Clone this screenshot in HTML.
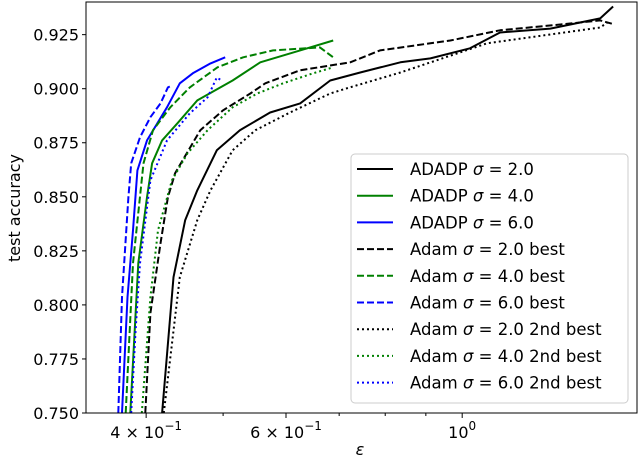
<!DOCTYPE html>
<html><head><meta charset="utf-8">
<style>
html,body{margin:0;padding:0;background:#fff;}
svg{display:block;font-family:"DejaVu Sans","Liberation Sans",sans-serif;}
</style></head>
<body>
<svg id="chart" width="640" height="462" viewBox="0 0 640 462">
  <g id="plot"></g>
  <rect x="86" y="2" width="551" height="411" fill="none" stroke="#000" stroke-width="1"/>
  <g id="axes"></g>
  <text x="20" y="208" transform="rotate(-90 20 208)" text-anchor="middle" font-size="16">test accuracy</text>
  <text x="360" y="455" text-anchor="middle" font-size="16" font-style="italic">ε</text>
  <g id="legend"></g>
</svg>
<script>
// ---- data ----
const eps_adadp2 = [0.419,0.433,0.448,0.464,0.491,0.525,0.573,0.625,0.682,0.744,0.836,0.912,1.023,1.116,1.291,1.492,1.549];
const acc_adadp2 = [0.75,0.8128,0.8392,0.853,0.8715,0.8808,0.889,0.8932,0.9038,0.9075,0.9122,0.914,0.9187,0.926,0.9278,0.9325,0.938];
const eps_adam2b = [0.399,0.405,0.417,0.426,0.435,0.468,0.500,0.541,0.565,0.625,0.723,0.788,0.966,1.116,1.329,1.492,1.545];
const acc_adam2b = [0.75,0.7962,0.8285,0.8498,0.8609,0.8808,0.89,0.8978,0.9025,0.9085,0.9122,0.9177,0.9223,0.927,0.9297,0.9316,0.930];
const eps_adam2s = [0.421,0.441,0.464,0.482,0.514,0.549,0.607,0.682,0.722,0.836,1.075,1.492,1.523];
const acc_adam2s = [0.75,0.8128,0.8392,0.853,0.8715,0.8808,0.889,0.8978,0.9006,0.9075,0.921,0.9283,0.9306];
const eps_adadp4 = [0.382,0.391,0.401,0.407,0.419,0.438,0.464,0.514,0.557,0.625,0.688];
const acc_adadp4 = [0.75,0.8193,0.8498,0.8655,0.8761,0.884,0.8946,0.9038,0.9122,0.9177,0.9223];
const eps_adam4b = [0.377,0.385,0.397,0.408,0.429,0.454,0.492,0.530,0.578,0.662,0.688];
const acc_adam4b = [0.75,0.8193,0.8655,0.8808,0.8914,0.9006,0.9099,0.9145,0.9177,0.9191,0.9145];
const eps_adam4s = [0.395,0.405,0.414,0.431,0.451,0.478,0.514,0.552,0.595,0.649,0.688];
const acc_adam4s = [0.75,0.8036,0.8345,0.8576,0.8701,0.8808,0.8914,0.8978,0.9025,0.9071,0.9099];
const eps_adadp6 = [0.373,0.379,0.385,0.390,0.401,0.425,0.441,0.458,0.482,0.503];
const acc_adadp6 = [0.75,0.8036,0.8345,0.8622,0.8761,0.8914,0.9025,0.9071,0.9117,0.9145];
const eps_adam6b = [0.369,0.373,0.380,0.383,0.393,0.405,0.417,0.426,0.431];
const acc_adam6b = [0.75,0.8036,0.8498,0.8655,0.8775,0.8868,0.8932,0.9006,0.9015];
const eps_adam6s = [0.383,0.388,0.393,0.405,0.425,0.454,0.478,0.491,0.498];
const acc_adam6s = [0.75,0.7883,0.8193,0.8576,0.8761,0.8886,0.896,0.9052,0.9038];
const yTicks = [0.750,0.775,0.800,0.825,0.850,0.875,0.900,0.925];
const yTickLabels = ["0.750","0.775","0.800","0.825","0.850","0.875","0.900","0.925"];
const xMajor = [0.4,0.6,1.0];
const xMajorLabels = [["4","−1"],["6","−1"],["","0"]];
const xMinor = [0.5,0.7,0.8,0.9];
const legendPrefix = ["ADADP ","ADADP ","ADADP ","Adam ","Adam ","Adam ","Adam ","Adam ","Adam "];
const legendSuffix = [" = 2.0"," = 4.0"," = 6.0"," = 2.0 best"," = 4.0 best"," = 6.0 best"," = 2.0 2nd best"," = 4.0 2nd best"," = 6.0 2nd best"];

// ---- scales ----
const X0=86, X1=637, Y0=413, Y1=2;
const LXMIN=Math.log10(0.336), LXMAX=Math.log10(1.66);
const YMIN=0.75, YMAX=0.9401;
function sx(v){return X0+(Math.log10(v)-LXMIN)/(LXMAX-LXMIN)*(X1-X0);}
function sy(v){return Y0-(v-YMIN)/(YMAX-YMIN)*(Y0-Y1);}
const NS="http://www.w3.org/2000/svg";
function mk(tag,attrs,parent){const e=document.createElementNS(NS,tag);for(const k in attrs)e.setAttribute(k,attrs[k]);parent.appendChild(e);return e;}

const series=[
 {x:eps_adadp2,y:acc_adadp2,c:"#000",d:"",n:"series-adadp-sigma2"},
 {x:eps_adadp4,y:acc_adadp4,c:"#008000",d:"",n:"series-adadp-sigma4"},
 {x:eps_adadp6,y:acc_adadp6,c:"#0000ff",d:"",n:"series-adadp-sigma6"},
 {x:eps_adam2b,y:acc_adam2b,c:"#000",d:"7,3",n:"series-adam-sigma2-best"},
 {x:eps_adam4b,y:acc_adam4b,c:"#008000",d:"7,3",n:"series-adam-sigma4-best"},
 {x:eps_adam6b,y:acc_adam6b,c:"#0000ff",d:"7,3",n:"series-adam-sigma6-best"},
 {x:eps_adam2s,y:acc_adam2s,c:"#000",d:"2,3",n:"series-adam-sigma2-2nd"},
 {x:eps_adam4s,y:acc_adam4s,c:"#008000",d:"2,3",n:"series-adam-sigma4-2nd"},
 {x:eps_adam6s,y:acc_adam6s,c:"#0000ff",d:"2,3",n:"series-adam-sigma6-2nd"}
];
const plot=document.getElementById('plot');
const clip=mk('clipPath',{id:'pc'},plot);
mk('rect',{x:X0,y:Y1,width:X1-X0,height:Y0-Y1},clip);
const pg=mk('g',{'clip-path':'url(#pc)'},plot);
series.forEach(s=>{
  const pts=s.x.map((v,i)=>sx(v).toFixed(1)+","+sy(s.y[i]).toFixed(1)).join(" ");
  const p=mk('polyline',{points:pts,fill:"none",stroke:s.c,'stroke-width':2,'stroke-linejoin':'round'},pg);
  if(s.d)p.setAttribute('stroke-dasharray',s.d);
  
  
});

const axes=document.getElementById('axes');
yTicks.forEach((v,i)=>{
  const y=sy(v);
  const t=mk('line',{x1:X0-4,x2:X0,y1:y,y2:y,stroke:"#000"},axes);
  
  
  const l=mk('text',{x:X0-7,y:y+6,'text-anchor':'end','font-size':16},axes);
  l.textContent=yTickLabels[i];
  
  
});
xMinor.forEach(v=>{
  const x=sx(v);
  const t=mk('line',{x1:x,x2:x,y1:Y0,y2:Y0+3,stroke:"#000"},axes);
  
  
});
xMajor.forEach((v,i)=>{
  const x=sx(v);
  const t=mk('line',{x1:x,x2:x,y1:Y0,y2:Y0+5,stroke:"#000"},axes);
  
  
  const l=mk('text',{x:x,y:Y0+25,'text-anchor':'middle','font-size':16},axes);
  const [m,e]=xMajorLabels[i];
  l.textContent=(m?m+" × ":"")+"10";
  const sup=mk('tspan',{dy:-8,'font-size':12},l);
  sup.textContent=e;
  
  
});

const lg=document.getElementById('legend');
const box=mk('rect',{x:351,y:154,width:277,height:249,rx:4,fill:"#fff",'fill-opacity':0.8,stroke:"#ccc"},lg);


legendPrefix.forEach((pre,i)=>{
  const y=169+i*26.7;
  const s=series[i];
  const ln=mk('line',{x1:357,x2:393,y1:y,y2:y,stroke:s.c,'stroke-width':2},lg);
  if(s.d)ln.setAttribute('stroke-dasharray',s.d);
  
  
  const t=mk('text',{x:410,y:y+6,'font-size':16.5},lg);
  t.textContent=pre;
  const sg=mk('tspan',{'font-style':'italic'},t);
  sg.textContent="σ";
  const rest=mk('tspan',{},t);
  rest.textContent=legendSuffix[i];
  
  
});
</script>
</body></html>
